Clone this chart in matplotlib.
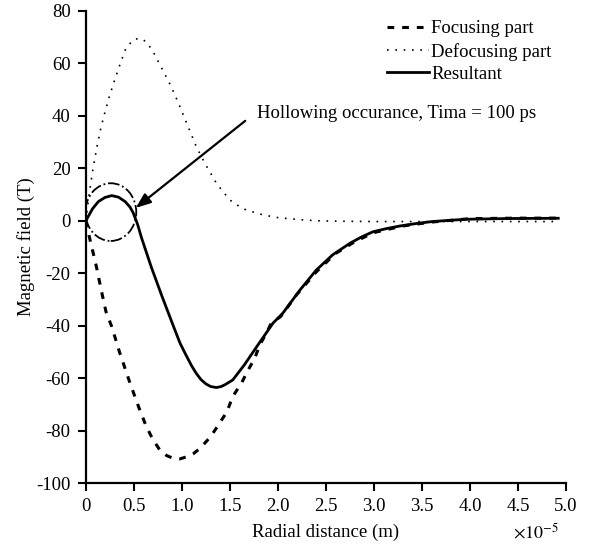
import matplotlib
matplotlib.use('Agg')
import matplotlib.pyplot as plt
from matplotlib.patches import Ellipse

plt.rcParams['font.family'] = ['Liberation Serif', 'DejaVu Serif']
plt.rcParams['mathtext.fontset'] = 'stix'
plt.rcParams['axes.unicode_minus'] = False

# radial distance in units of 1e-5 m
x_focus = [0, 0.04, 0.11, 0.16, 0.21, 0.27, 0.35, 0.46, 0.55, 0.63, 0.70, 0.77, 0.84,
           0.91, 0.98, 1.05, 1.12, 1.19, 1.30, 1.38, 1.47, 1.53, 1.62, 1.69, 1.76,
           1.81, 1.88, 1.93, 2.03, 2.2, 2.4, 2.6, 2.8, 3.0, 3.3, 3.6, 4.0, 4.5, 4.92]
y_focus = [0, -6.7, -17.5, -26.4, -34.7, -40.4, -50, -61.9, -71, -78.5, -83.5, -87.4, -89.5,
           -90.6, -90.8, -90, -88.8, -86.8, -82.3, -77.9, -72.8, -67, -62, -56.9, -52.4,
           -47.4, -42.9, -39.1, -36.5, -28, -19.5, -12.5, -8, -4.5, -2, -0.5, 0.8, 1, 1]

x_defocus = [0, 0.04, 0.08, 0.12, 0.16, 0.2, 0.25, 0.3, 0.35, 0.41, 0.49, 0.56, 0.63, 0.7,
             0.8, 0.89, 0.98, 1.065, 1.15, 1.24, 1.3, 1.36, 1.42, 1.5, 1.6, 1.67, 1.85,
             2.0, 2.2, 2.4, 2.7, 3.0, 3.5, 4.0, 4.5, 4.92]
y_defocus = [0, 11.7, 21, 29, 36, 41.5, 48, 53.7, 59, 65.1, 69, 69.6, 68.3, 64.5,
             57.5, 51.1, 43.5, 35.9, 28.3, 21.9, 18.1, 14.3, 11.5, 7.9, 5.4, 4.1, 2.2,
             1.2, 0.5, 0, -0.2, -0.3, -0.3, -0.3, -0.3, -0.3]

x_result = [0, 0.02, 0.07, 0.13, 0.2, 0.27, 0.34, 0.41, 0.46, 0.495, 0.54, 0.58, 0.68,
            0.79, 0.91, 0.98, 1.04, 1.1, 1.15, 1.2, 1.25, 1.3, 1.36, 1.41, 1.45, 1.53,
            1.65, 1.78, 1.95, 2.05, 2.23, 2.40, 2.57, 2.75, 2.87, 2.99, 3.13, 3.27, 3.45,
            3.61, 3.8, 3.96, 4.4, 4.92]
y_result = [0, 1.3, 4.6, 7.3, 8.9, 9.6, 9.0, 7.3, 5.2, 2.9, -1.5, -6.5, -17.5,
            -28.5, -40, -46.6, -51, -55.2, -58.2, -60.6, -62.2, -63.2, -63.6, -63.2, -62.5, -60.7,
            -55, -48, -39, -35.3, -26.4, -18.8, -13, -8.6, -6.2, -4.2, -3, -2, -1,
            -0.3, 0.2, 0.57, 0.85, 0.95]

xticks = [0, 0.5, 1.0, 1.5, 2.0, 2.5, 3.0, 3.5, 4.0, 4.5, 5.0]
xticklabels = ['0', '0.5', '1.0', '1.5', '2.0', '2.5', '3.0', '3.5', '4.0', '4.5', '5.0']
yticks = [-100, -80, -60, -40, -20, 0, 20, 40, 60, 80]

fig = plt.figure(figsize=(5.92, 5.48), dpi=100)
ax = fig.add_axes([0.145, 0.1186, 0.811, 0.8614])

ax.plot(x_focus, y_focus, color='black', lw=2.2, ls=(0, (2.2, 2.6)), label='Focusing part')
ax.plot(x_defocus, y_defocus, color='black', lw=1.2, ls=(0, (1, 4)), label='Defocusing part')
ax.plot(x_result, y_result, color='black', lw=2.0, ls='-', label='Resultant')

ax.add_patch(Ellipse((0.26, 3.3), width=0.53, height=22, fill=False, color='black',
                     lw=1.3, ls='-.'))

# arrow pointing at the hollow, text placed to its right
ax.annotate('', xy=(0.52, 4.9), xytext=(1.66, 38.1),
            arrowprops=dict(arrowstyle='-|>,head_length=0.9,head_width=0.35',
                            color='black', lw=1.6, shrinkA=0, shrinkB=0))
ax.text(1.78, 41, 'Hollowing occurance, Tima = 100 ps', fontsize=13.5, va='center', ha='left')

ax.set_xlim(0, 5)
ax.set_ylim(-100, 80)
ax.set_xticks(xticks)
ax.set_xticklabels(xticklabels)
ax.set_yticks(yticks)
ax.tick_params(direction='out', length=6, width=1.5, labelsize=13.5, pad=5)
for s in ['top', 'right']:
    ax.spines[s].set_visible(False)
for s in ['left', 'bottom']:
    ax.spines[s].set_linewidth(1.6)

ax.set_xlabel('Radial distance (m)', fontsize=13.5, labelpad=6)
ax.set_ylabel('Magnetic field (T)', fontsize=13.5, labelpad=1)
ax.text(0.985, -0.105, r'$\times10^{-5}$', transform=ax.transAxes, ha='right', va='center',
        fontsize=13)

ax.legend(loc='upper right', frameon=False, fontsize=13.5, handlelength=2.2,
          handletextpad=0.15, labelspacing=0.28, borderaxespad=0.1,
          bbox_to_anchor=(0.99, 1.0))

fig.savefig('out.png', dpi=100)
